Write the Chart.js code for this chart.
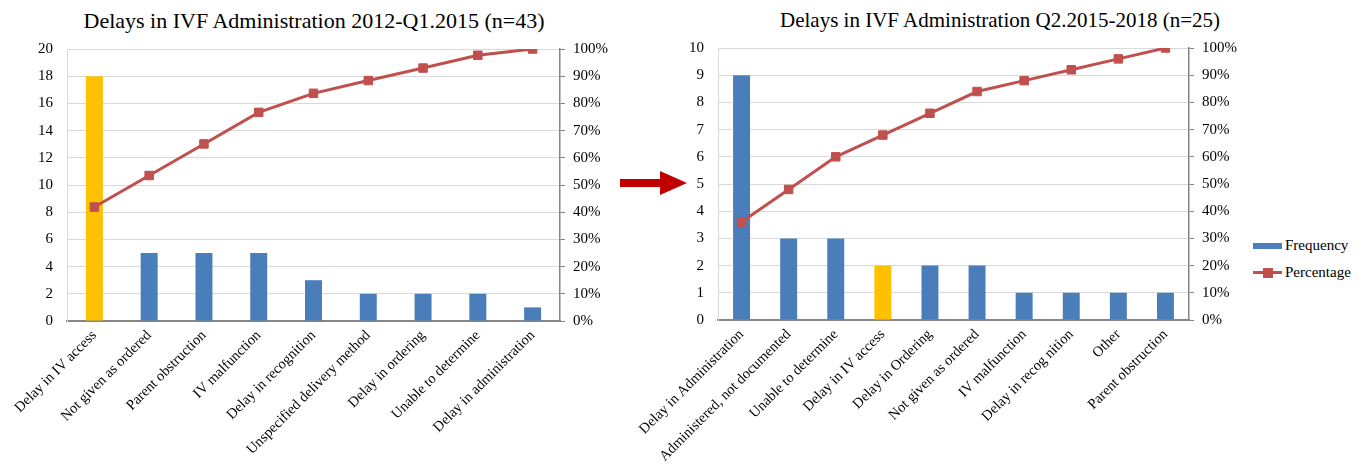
<!DOCTYPE html>
<html>
<head>
<meta charset="utf-8">
<script src="https://cdn.jsdelivr.net/npm/chart.js@4/dist/chart.umd.min.js"></script>
<style>
  body { margin: 0; background: #fff; width: 1367px; height: 472px; overflow: hidden; position: relative; font-family: 'Liberation Serif', 'Times New Roman', serif; }
  .box { position: absolute; top: 0; }
  .title { position: absolute; white-space: nowrap; transform: translateX(-50%); color: #000; }
  #legend { position: absolute; left: 1253px; top: 232px; font-size: 15px; line-height: 27px; }
  .lg { display: flex; align-items: center; }
  .sw { display: inline-block; width: 29px; margin-right: 3px; position: relative; }
</style>
</head>
<body>

<div class="title" style="left:314px; top:8px; font-size:22px;">Delays in IVF Administration 2012-Q1.2015 (n=43)</div>
<div class="title" style="left:1000px; top:8px; font-size:21px;">Delays in IVF Administration Q2.2015-2018 (n=25)</div>

<div class="box" style="left:0px;"><canvas id="leftChart" width="615" height="472"></canvas></div>
<div class="box" style="left:600px;"><canvas id="rightChart" width="645" height="472"></canvas></div>

<svg style="position:absolute; left:615px; top:165px;" width="80" height="40">
  <polygon points="5,14 45,14 45,6 72,18 45,30 45,22 5,22" fill="#C00000"/>
</svg>

<div id="legend"></div>

<script>
// before: 2012 - Q1.2015
var beforeLabels = ["Delay in IV access", "Not given as ordered", "Parent obstruction", "IV malfunction",
  "Delay in recognition", "Unspecified delivery method", "Delay in ordering", "Unable to determine",
  "Delay in administration"];
var beforeFreq = [18, 5, 5, 5, 3, 2, 2, 2, 1];
var beforePct = [41.9, 53.5, 65.1, 76.7, 83.7, 88.4, 93.0, 97.7, 100];

// after: Q2.2015 - 2018
var afterLabels = ["Delay in Administration", "Administered, not documented", "Unable to determine",
  "Delay in IV access", "Delay in Ordering", "Not given as ordered", "IV malfunction",
  "Delay in recog nition", "Other", "Parent obstruction"];
var afterFreq = [9, 3, 3, 2, 2, 2, 1, 1, 1, 1];
var afterPct = [36, 48, 60, 68, 76, 84, 88, 92, 96, 100];

var BLUE = "#4A7EBB";
var GOLD = "#FFC000";
var RED = "#C0504D";
var SERIF = "'Liberation Serif', 'Times New Roman', serif";

Chart.defaults.font.family = SERIF;
Chart.defaults.font.size = 15;
Chart.defaults.color = "#000";

function makePareto(id, labels, freq, pct, highlight, yMax, yStep, barPct, dims) {
  var colors = freq.map(function(v, i) { return i === highlight ? GOLD : BLUE; });
  return new Chart(document.getElementById(id), {
    type: "bar",
    data: {
      labels: labels,
      datasets: [{
        type: "line",
        label: "Percentage",
        data: pct,
        yAxisID: "y1",
        borderColor: RED,
        backgroundColor: RED,
        borderWidth: 3,
        pointStyle: "rect",
        pointRadius: 6,
        pointBorderWidth: 1,
        tension: 0,
        order: 0
      }, {
        label: "Frequency",
        data: freq,
        yAxisID: "y",
        backgroundColor: colors,
        categoryPercentage: 1,
        barPercentage: barPct,
        order: 1
      }]
    },
    options: {
      responsive: false,
      animation: false,
      layout: { padding: { top: dims.top, left: 0, right: 0, bottom: 0 } },
      plugins: { legend: { display: false }, tooltip: { enabled: false } },
      scales: {
        x: {
          grid: { display: true, drawOnChartArea: false, drawTicks: false },
          border: { color: "#868686", width: 2 },
          ticks: { autoSkip: false, minRotation: 45, maxRotation: 45, padding: 6,
                   font: { family: SERIF, size: 14.5 } },
          afterFit: function(s) { s.height = dims.xh; }
        },
        y: {
          min: 0, max: yMax,
          ticks: { stepSize: yStep, padding: 14, font: { family: SERIF, size: 15 } },
          grid: { color: "#D9D9D9", drawTicks: false },
          border: { color: "#D9D9D9" },
          afterFit: function(s) { s.width = dims.yw; }
        },
        y1: {
          position: "right",
          min: 0, max: 100,
          ticks: { stepSize: 10, padding: 8, font: { family: SERIF, size: 15 },
                   callback: function(v) { return v + "%"; } },
          grid: { drawOnChartArea: false, color: "#868686", tickLength: 5 },
          border: { color: "#868686", width: 1.5 },
          afterFit: function(s) { s.width = dims.y1w; }
        }
      }
    }
  });
}

var leftChart = makePareto("leftChart", beforeLabels, beforeFreq, beforePct, 0, 20, 2, 0.31,
  { top: 49, xh: 151, yw: 67, y1w: 55 });
var rightChart = makePareto("rightChart", afterLabels, afterFreq, afterPct, 3, 10, 1, 0.36,
  { top: 48, xh: 152, yw: 118, y1w: 56 });

// legend built from the right chart's datasets
var legend = document.getElementById("legend");
[1, 0].forEach(function(i) {
  var ds = rightChart.data.datasets[i];
  var row = document.createElement("div");
  row.className = "lg";
  var sw = document.createElement("span");
  sw.className = "sw";
  if (ds.type === "line") {
    sw.style.height = "3px";
    sw.style.background = ds.borderColor;
    var dot = document.createElement("span");
    dot.style.cssText = "position:absolute;left:10px;top:-3.5px;width:10px;height:10px;background:" + ds.borderColor;
    sw.appendChild(dot);
  } else {
    sw.style.height = "6px";
    sw.style.background = BLUE;
  }
  row.appendChild(sw);
  row.appendChild(document.createTextNode(ds.label));
  legend.appendChild(row);
});
</script>
</body>
</html>
